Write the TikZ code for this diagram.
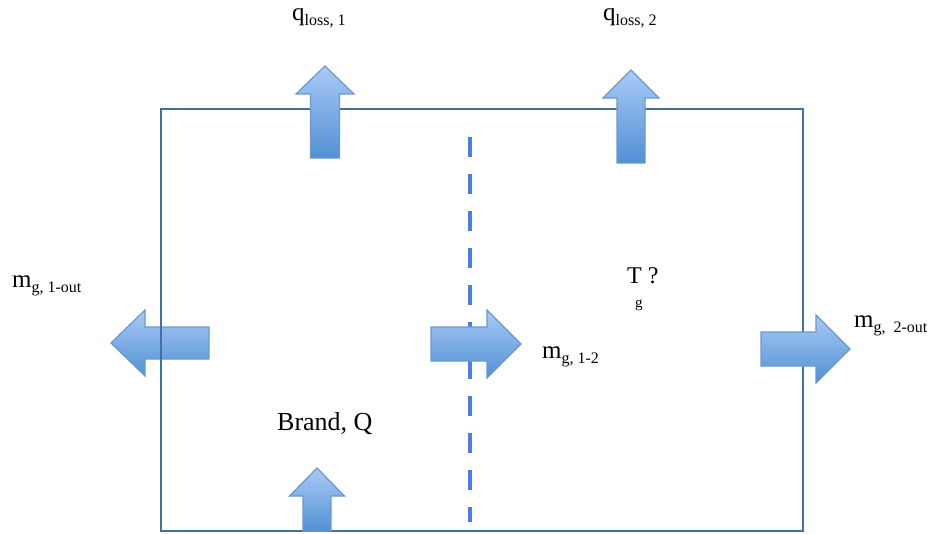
\documentclass[tikz,border=0pt]{standalone}
\usepackage{fontspec}
\setmainfont{Liberation Serif}
\usetikzlibrary{positioning}
\definecolor{boxline}{HTML}{41719C}
\definecolor{splitline}{HTML}{4A7EEB}
\definecolor{arrowtop}{HTML}{A9CAF6}
\definecolor{arrowbot}{HTML}{5290D3}
\definecolor{arrowedge}{HTML}{6A99CF}
\newcommand{\lowtext}[1]{\raisebox{-5pt}{\fontsize{16}{16}\selectfont #1}}
\tikzset{
    %Define style for the block arrows
    flow/.style={
           top color=arrowtop,
           bottom color=arrowbot,
           draw=arrowedge,
           line width=1.2pt,
           line join=miter},
    % Define style for the labels
    lbl/.style={
           inner sep=0pt,
           anchor=base west,
           font=\fontsize{25}{25}\selectfont},
    % Define line styles
    wall/.style={
           draw=boxline,
           line width=1.6pt},
    split/.style={
           draw=splitline,
           line width=4.5pt,
           dash pattern=on 20pt off 17pt}
}
\begin{document}
\begin{tikzpicture}[x=1pt,y=-1pt]
 \useasboundingbox (0,0) rectangle (929,533);
 %left outflow
    \shade[flow] (111,343) -- (145,310) -- (145,327) -- (209,327) -- (209,359)
        -- (145,359) -- (145,376) -- cycle;
 %control volume
    \draw[wall] (161,109) rectangle (803,531);
    \draw[split] (470,137) -- (470,522);
 %heat losses
    \shade[flow] (325,66) -- (354,94) -- (339.5,94) -- (339.5,158) -- (310.5,158)
        -- (310.5,94) -- (296,94) -- cycle;
    \shade[flow] (631,70) -- (659,98) -- (645,98) -- (645,163) -- (617,163)
        -- (617,98) -- (603,98) -- cycle;
 %burner input
    \shade[flow] (317,468) -- (344.5,496) -- (331,496) -- (331,531) -- (303,531)
        -- (303,496) -- (289.5,496) -- cycle;
 %gas flows
    \shade[flow] (521,344) -- (487,310) -- (487,327) -- (431,327) -- (431,361)
        -- (487,361) -- (487,378) -- cycle;
    \shade[flow] (850,349) -- (816,315) -- (816,332) -- (761,332) -- (761,366)
        -- (816,366) -- (816,383) -- cycle;
 %labels
    \node[lbl] (qloss1) at (292,20) {q\lowtext{loss, 1}};
    \node[lbl] (qloss2) at (603,20) {q\lowtext{loss, 2}};
    \node[lbl] (mout1) at (12,287) {m\lowtext{g, 1-out}};
    \node[lbl] (m12) at (542,358) {m\lowtext{g, 1-2}};
    \node[lbl] (mout2) at (854,327) {m\lowtext{g,~ 2-out}};
    \node[lbl, font=\fontsize{24}{24}\selectfont] (temp) at (627,283) {T ?};
    \node[lbl, font=\fontsize{15}{15}\selectfont, xshift=8pt, yshift=-24pt] (tsub) at (temp.base west) {g};
    \node[lbl, font=\fontsize{26}{26}\selectfont] (burner) at (277,430) {Brand, Q};
\end{tikzpicture}
\end{document}
